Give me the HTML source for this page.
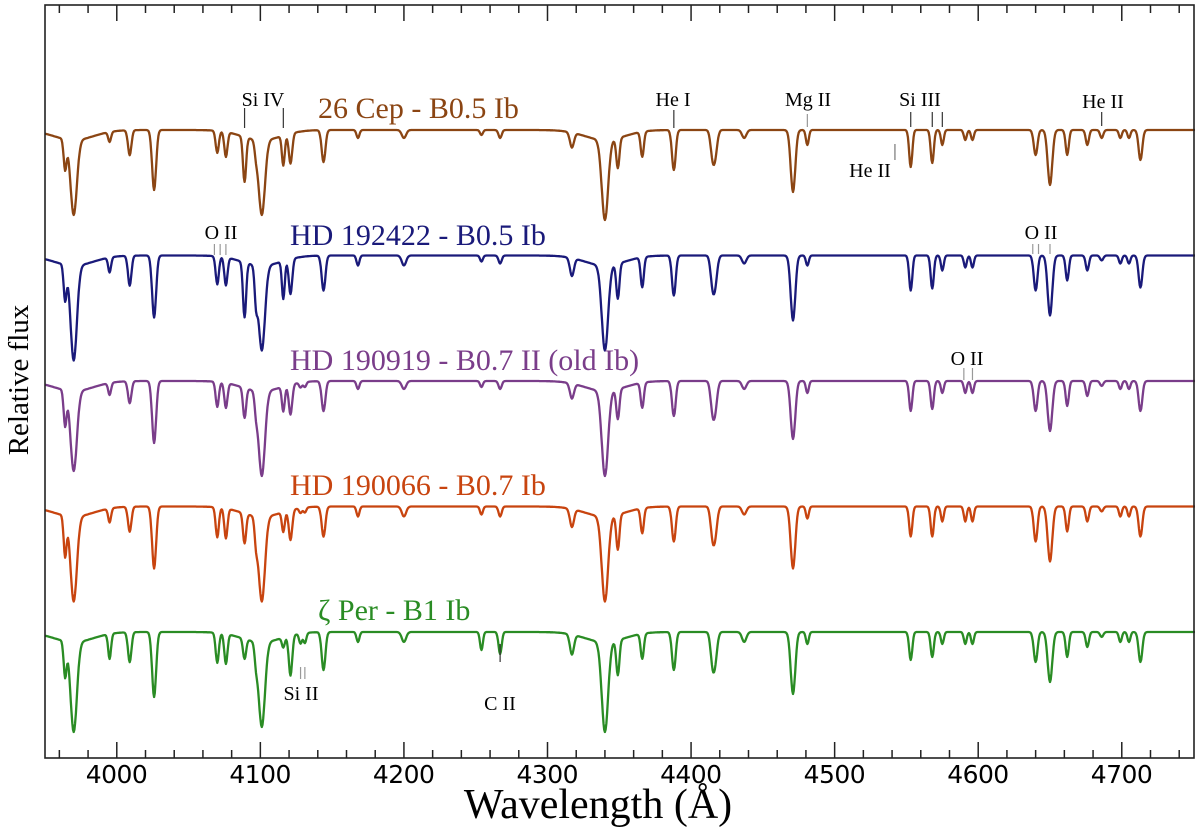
<!DOCTYPE html>
<html><head><meta charset="utf-8"><style>
html,body{margin:0;padding:0;background:#fff;}
svg{display:block;font-family:"Liberation Serif",serif;}
</style></head><body>
<svg id="chart" width="1200" height="837" viewBox="0 0 1200 837" xmlns="http://www.w3.org/2000/svg">
<g id="marks"></g>
<g id="axes"></g>
<g id="ann"></g>
<text x="0" y="0" transform="translate(28,380) rotate(-90)" text-anchor="middle" font-size="29" fill="#000">Relative flux</text>
<text x="598" y="818" text-anchor="middle" font-size="42" fill="#000">Wavelength (Å)</text>
</svg>
<script>
const lineCenters=[3964,3970,3995,4009,4026,4070,4076,4089,4097,4101,4116,4121,4128,4131,4144,4168,4200,4254,4267,4317,4340,4349,4366,4388,4415,4417,4437,4471,4481,4553,4568,4575,4591,4596,4640,4650,4662,4676,4686,4699,4705,4713];
const lineWidths=[1,2.2,1,1.2,1.4,1.1,1.1,1.1,1,2.2,1,1.2,1,1,1.3,1,1.5,1,1.1,1.4,2.2,1.1,1.1,1.3,1.4,1.4,1.5,1.6,1,1.1,1.1,1,1,1,1.3,1.6,1.1,1.1,1.1,1,1,1.3];
const depthsCep=[30,75,10,25,60,22,25,45,10,75,30,30,0,0,32,8,8,5,8,15,80,30,25,40,25,20,8,62,15,37,33,15,10,10,25,55,25,15,8,8,8,30];
const depths192422=[35,95,15,30,62,28,28,55,30,85,38,35,0,0,35,10,10,6,8,18,85,35,30,40,28,22,8,65,10,35,33,15,12,12,35,60,25,15,5,8,8,32];
const depths190919=[35,80,12,22,62,25,25,30,15,85,25,30,5,5,30,8,8,6,8,15,85,30,25,35,28,22,8,58,12,30,28,12,12,12,30,50,25,15,5,8,8,30];
const depths190066=[40,85,14,25,62,30,30,30,20,85,20,30,5,5,30,10,10,8,10,18,85,35,25,35,28,22,8,62,12,30,30,15,15,15,35,55,25,15,5,10,10,30];
const depthsZetaPer=[35,90,25,30,65,30,30,20,15,85,10,40,10,10,38,10,10,18,22,20,90,35,25,38,30,22,10,62,12,28,25,12,12,12,30,50,25,15,5,10,10,30];
const continuumLevels=[0,1,2,3,4];
const starNames=["26 Cep - B0.5 Ib","HD 192422 - B0.5 Ib","HD 190919 - B0.7 II (old Ib)","HD 190066 - B0.7 Ib","ζ Per - B1 Ib"];
const starColors=["#8b4513","#1a1a7a","#7a3d8a","#c8440f","#2a8c24"];
const xTicks=[4000,4100,4200,4300,4400,4500,4600,4700];
const balmer=[3970,4101,4340];

const X0=45,X1=1195,W0=3950,W1=4751;
const x=w=>X0+(w-W0)*(X1-X0)/(W1-W0);
const y=(lvl,d)=>130+lvl*125.5+d;
const NS="http://www.w3.org/2000/svg";
function mk(tag,parent){const e=document.createElementNS(NS,tag);parent.appendChild(e);return e;}
const marks=document.getElementById('marks');
const allDepths=[depthsCep,depths192422,depths190919,depths190066,depthsZetaPer];
const names=['spectrum-26-cep','spectrum-hd-192422','spectrum-hd-190919','spectrum-hd-190066','spectrum-zeta-per'];
allDepths.forEach((dep,s)=>{
  let d='';
  for(let w=W0;w<=W1;w+=0.5){
    let a=0;
    for(let i=0;i<lineCenters.length;i++){const t=(w-lineCenters[i])/lineWidths[i];a+=dep[i]*Math.exp(-0.5*t*t);}
    balmer.forEach(c=>{const t=(w-c)/14;a+=10*Math.exp(-0.5*t*t);});
    d+=(d?'L':'M')+x(w).toFixed(1)+','+y(continuumLevels[s],a).toFixed(1);
  }
  const p=mk('path',marks);
  
  
  p.setAttribute('d',d);p.setAttribute('fill','none');p.setAttribute('stroke',starColors[s]);p.setAttribute('stroke-width','2.3');p.setAttribute('stroke-linejoin','round');
});
const labelPos=[[318,118],[290,245],[290,370],[290,495],[318,620]];
starNames.forEach((n,s)=>{
  const t=mk('text',marks);
  
  
  t.setAttribute('x',labelPos[s][0]);t.setAttribute('y',labelPos[s][1]);t.setAttribute('font-size','30');t.setAttribute('fill',starColors[s]);t.textContent=n;
});
const axes=document.getElementById('axes');
const fr=mk('rect',axes);


fr.setAttribute('x',X0);fr.setAttribute('y',5);fr.setAttribute('width',X1-X0-1);fr.setAttribute('height',753);fr.setAttribute('fill','none');fr.setAttribute('stroke','#222');fr.setAttribute('stroke-width','1.6');
for(let w=3960;w<W1;w+=20){
  const major=w%100===0;
  const l=mk('line',axes);
  
  
  l.setAttribute('x1',x(w));l.setAttribute('x2',x(w));l.setAttribute('y1',758);l.setAttribute('y2',major?742:750);l.setAttribute('stroke','#222');l.setAttribute('stroke-width','1.5');
  const u=mk('line',axes);
  
  
  u.setAttribute('x1',x(w));u.setAttribute('x2',x(w));u.setAttribute('y1',5);u.setAttribute('y2',major?21:13);u.setAttribute('stroke','#222');u.setAttribute('stroke-width','1.5');
}
xTicks.forEach(w=>{
  const t=mk('text',axes);
  
  
  t.setAttribute('x',x(w));t.setAttribute('y',783);t.setAttribute('text-anchor','middle');t.setAttribute('font-size','25');t.setAttribute('font-family','"DejaVu Sans","Liberation Sans",sans-serif');t.setAttribute('textLength','62');t.textContent=w;
});
const ann=document.getElementById('ann');
function label(txt,cx,cy,name){const t=mk('text',ann);t.setAttribute('x',cx);t.setAttribute('y',cy);t.setAttribute('text-anchor','middle');t.setAttribute('font-size','20');t.textContent=txt;}
function tick(w,y1,y2,col,name){const l=mk('line',ann);l.setAttribute('x1',x(w));l.setAttribute('x2',x(w));l.setAttribute('y1',y1);l.setAttribute('y2',y2);l.setAttribute('stroke',col||'#333');l.setAttribute('stroke-width','1.2');}
label('Si IV',263,106,'si-iv-label');tick(4089,108,128,'#333','si-iv-marker');tick(4116,108,128,'#333','si-iv-marker');
label('He I',673,106,'he-i-label');tick(4388,110,128,'#333','he-i-marker');
label('Mg II',808,106,'mg-ii-label');tick(4481,114,127,'#999','mg-ii-marker');
label('Si III',920,106,'si-iii-label');tick(4553,112,127,'#333','si-iii-marker');tick(4568,112,127,'#333','si-iii-marker');tick(4575,112,127,'#333','si-iii-marker');
label('He II',870,177,'he-ii-label-lower');tick(4542,144,160,'#777','he-ii-marker-lower');
label('He II',1103,108,'he-ii-label');tick(4686,112,126,'#333','he-ii-marker');
label('O II',221,239,'o-ii-label-blue-left');tick(4068,244,255,'#999','o-ii-marker');tick(4072,244,255,'#999','o-ii-marker');tick(4076,244,255,'#999','o-ii-marker');
label('O II',1041,239,'o-ii-label-blue-right');tick(4638,244,254,'#999','o-ii-marker');tick(4642,244,254,'#999','o-ii-marker');tick(4650,244,254,'#999','o-ii-marker');
label('O II',967,365,'o-ii-label-purple');tick(4590,368,380,'#999','o-ii-marker');tick(4596,368,380,'#999','o-ii-marker');
label('Si II',301,700,'si-ii-label');tick(4128,667,679,'#999','si-ii-marker');tick(4131,667,679,'#999','si-ii-marker');
label('C II',500,710,'c-ii-label');tick(4267,644,662,'#333','c-ii-marker');
</script>
</body></html>
